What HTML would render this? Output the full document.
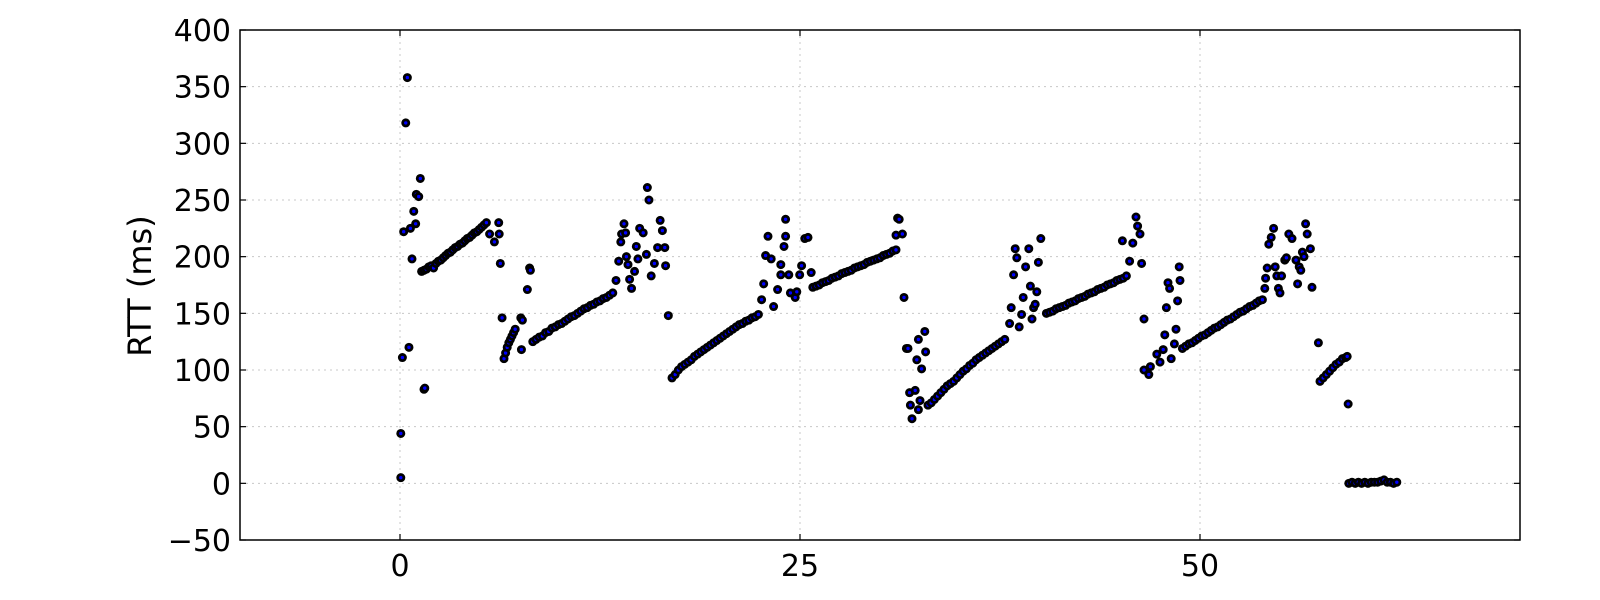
<!DOCTYPE html>
<html><head><meta charset="utf-8"><style>
html,body{margin:0;padding:0;background:#fff;}
svg{display:block;font-family:"DejaVu Sans","Liberation Sans",sans-serif;}
</style></head><body>
<svg id="chart" width="1600" height="600" viewBox="0 0 1600 600" xmlns="http://www.w3.org/2000/svg">
<rect x="0" y="0" width="1600" height="600" fill="#fff"/>
<g id="grid"></g>
<g id="points"></g>
<rect x="240" y="30" width="1280" height="510" fill="none" stroke="#000" stroke-width="1.5"/>
<g id="ticks"></g>
<text x="151" y="286" font-size="32" text-anchor="middle" transform="rotate(-90 151 286)">RTT (ms)</text>
</svg>
<script>
const xTicks = [0, 25, 50];
const xTickLabels = ["0", "25", "50"];
const yTicks = [-50, 0, 50, 100, 150, 200, 250, 300, 350, 400];
const yTickLabels = ["\u221250", "0", "50", "100", "150", "200", "250", "300", "350", "400"];
const times = [
0.05,0.05,0.15,0.23,0.36,0.46,0.56,0.65,0.75,0.86,0.98,1.02,1.17,1.27,1.5,1.55,
1.35,1.5,1.65,1.8,1.95,2.1,2.25,2.4,2.55,2.7,2.85,3.0,3.15,3.3,3.45,3.6,3.75,3.9,4.05,4.2,4.35,4.5,4.65,4.8,4.95,5.1,5.25,5.4,
5.6,5.9,6.17,6.2,6.27,6.38,
6.5,6.6,6.7,6.8,6.9,7.0,7.1,7.2,7.59,7.55,7.65,7.96,8.1,8.15,
8.3,8.5,8.7,8.9,9.1,9.3,9.5,9.7,9.9,10.1,10.3,10.5,10.7,10.9,11.1,11.3,11.5,11.7,11.9,12.1,12.3,12.5,12.7,12.9,13.1,13.3,
13.5,13.67,13.8,13.85,14.0,14.1,14.15,14.25,14.35,14.47,14.66,14.77,14.87,14.98,15.2,15.4,15.46,15.56,15.7,15.9,16.1,16.26,16.4,16.55,16.6,16.77,
17.0,17.2,17.4,17.6,17.8,18.0,18.2,18.4,18.6,18.8,19.0,19.2,19.4,19.6,19.8,20.0,20.2,20.4,20.6,20.8,21.0,21.2,21.4,21.6,21.8,22.0,22.2,22.4,
22.6,22.73,22.85,23.0,23.2,23.35,23.6,23.8,23.8,24.0,24.1,24.1,24.3,24.4,24.7,24.8,24.98,25.1,25.3,25.5,25.7,
25.8,26.0,26.2,26.4,26.6,26.8,27.0,27.2,27.4,27.6,27.8,28.0,28.2,28.4,28.6,28.8,29.0,29.2,29.4,29.6,29.8,30.0,30.2,30.4,30.6,30.8,
31.0,31.1,31.2,31.0,31.4,31.5,31.65,31.75,32.8,32.4,32.3,32.85,32.6,31.85,32.2,31.9,32.0,32.4,32.5,
33.0,33.2,33.4,33.6,33.8,34.0,34.2,34.4,34.6,34.8,35.0,35.2,35.4,35.6,35.8,36.0,36.2,36.4,36.6,36.8,37.0,37.2,37.4,37.6,37.8,
38.1,38.2,38.7,38.85,38.35,38.45,38.55,38.95,39.1,39.3,39.4,39.5,39.6,39.7,39.8,39.9,40.05,
40.4,40.6,40.8,41.0,41.2,41.4,41.6,41.8,42.0,42.2,42.4,42.6,42.8,43.0,43.2,43.4,43.6,43.8,44.0,44.2,44.4,44.6,44.8,45.0,45.2,45.4,
45.15,45.8,45.6,46.0,46.1,46.25,46.35,46.5,
46.5,46.8,46.9,47.3,47.5,47.7,47.8,47.9,48.0,48.1,48.2,48.4,48.5,48.6,48.7,48.75,
48.9,49.1,49.3,49.5,49.7,49.9,50.1,50.3,50.5,50.7,50.9,51.1,51.3,51.5,51.7,51.9,52.1,52.3,52.5,52.7,52.9,53.1,53.3,53.5,53.7,53.9,
54.05,54.1,54.2,54.3,54.45,54.6,54.7,54.8,54.9,55.0,55.1,55.3,55.4,55.55,55.75,56.0,56.1,56.2,56.3,56.4,56.5,56.6,56.7,56.9,57.0,57.4,
57.5,57.7,57.9,58.1,58.3,58.5,58.7,58.9,59.1,59.2,59.26,
59.3,59.5,59.7,59.9,60.1,60.3,60.5,60.7,60.9,61.1,61.3,61.5,61.7,61.9,62.1,62.3
];
const rtt = [
5,44,111,222,318,358,120,225,198,240,229,255,253,269,83,84,
187,188,189,191,192,190,194,196,197,199,201,203,204,206,208,209,211,212,214,216,217,219,221,222,224,226,228,230,
220,213,230,220,194,146,
110,115,120,124,127,130,133,136,118,146,144,171,190,188,
125,127,129,130,133,134,137,138,140,141,143,145,147,148,150,152,154,155,157,158,160,161,163,164,166,168,
179,196,213,220,229,221,200,193,180,172,187,209,198,225,221,202,261,250,183,194,208,232,223,208,192,148,
93,96,100,103,105,107,109,112,114,116,118,120,122,124,126,128,130,132,134,136,138,140,141,143,144,146,147,149,
162,176,201,218,198,156,171,193,184,209,218,233,184,168,164,169,184,192,216,217,186,
173,174,175,177,178,179,181,182,183,185,186,187,188,190,191,192,193,195,196,197,198,199,201,202,203,205,
219,234,233,206,220,164,119,119,134,127,109,116,101,80,82,69,57,65,73,
69,71,74,77,80,83,86,88,90,93,96,99,101,104,106,109,111,113,115,117,119,121,123,125,127,
141,155,138,149,184,207,199,164,191,207,174,145,155,158,169,195,216,
150,151,152,154,155,156,157,159,160,161,163,164,165,167,168,169,171,172,173,175,176,177,179,180,181,183,
214,212,196,235,227,220,194,145,
100,96,103,114,107,118,131,155,177,172,110,123,136,161,191,179,
119,121,123,124,126,128,130,131,133,135,137,138,140,142,144,145,147,149,151,152,154,156,157,159,161,162,
172,181,190,211,217,225,191,183,172,168,183,197,199,220,216,197,176,191,188,204,200,229,220,207,173,124,
90,93,96,99,102,105,107,110,111,112,70,
0,1,0,1,0,1,0,1,1,1,2,3,1,1,0,1
];
const X0 = 240, X1 = 1520, Y0 = 540, Y1 = 30;
const xMin = -10, xMax = 70, yMin = -50, yMax = 400;
function sx(v){ return X0 + (v - xMin) / (xMax - xMin) * (X1 - X0); }
function sy(v){ return Y0 - (v - yMin) / (yMax - yMin) * (Y0 - Y1); }
const NS = "http://www.w3.org/2000/svg";
const grid = document.getElementById('grid');
const ticks = document.getElementById('ticks');
const pts = document.getElementById('points');
function mk(tag, attrs){ const e = document.createElementNS(NS, tag); for (const k in attrs) e.setAttribute(k, attrs[k]); return e; }
yTicks.forEach((v, i) => {
  const y = sy(v);
  if (v > yMin && v < yMax) {
    const g = mk('line', {x1: X0, x2: X1, y1: y, y2: y, stroke: '#c8c8c8', 'stroke-width': 1, 'stroke-dasharray': '2,4'});
    
    
    grid.appendChild(g);
  }
  const t1 = mk('line', {x1: X0, x2: X0 + 6, y1: y, y2: y, stroke: '#000', 'stroke-width': 1.2});
  
  
  ticks.appendChild(t1);
  const t2 = mk('line', {x1: X1 - 6, x2: X1, y1: y, y2: y, stroke: '#000', 'stroke-width': 1.2});
  
  
  ticks.appendChild(t2);
  const tx = mk('text', {x: X0 - 9, y: y + 11, 'font-size': 30, 'text-anchor': 'end', fill: '#000'});
  tx.textContent = yTickLabels[i];
  
  
  ticks.appendChild(tx);
});
xTicks.forEach((v, i) => {
  const x = sx(v);
  const g = mk('line', {x1: x, x2: x, y1: Y1, y2: Y0, stroke: '#c8c8c8', 'stroke-width': 1, 'stroke-dasharray': '2,4'});
  
  
  grid.appendChild(g);
  const t1 = mk('line', {x1: x, x2: x, y1: Y0 - 6, y2: Y0, stroke: '#000', 'stroke-width': 1.2});
  
  
  ticks.appendChild(t1);
  const t2 = mk('line', {x1: x, x2: x, y1: Y1, y2: Y1 + 6, stroke: '#000', 'stroke-width': 1.2});
  
  
  ticks.appendChild(t2);
  const tx = mk('text', {x: x, y: 576, 'font-size': 30, 'text-anchor': 'middle', fill: '#000'});
  tx.textContent = xTickLabels[i];
  
  
  ticks.appendChild(tx);
});
times.forEach((t, i) => {
  const c = mk('circle', {cx: sx(t), cy: sy(rtt[i]), r: 3.1, fill: '#0000ff', stroke: '#000', 'stroke-width': 2.8});
  
  
  pts.appendChild(c);
});
</script>
</body></html>
